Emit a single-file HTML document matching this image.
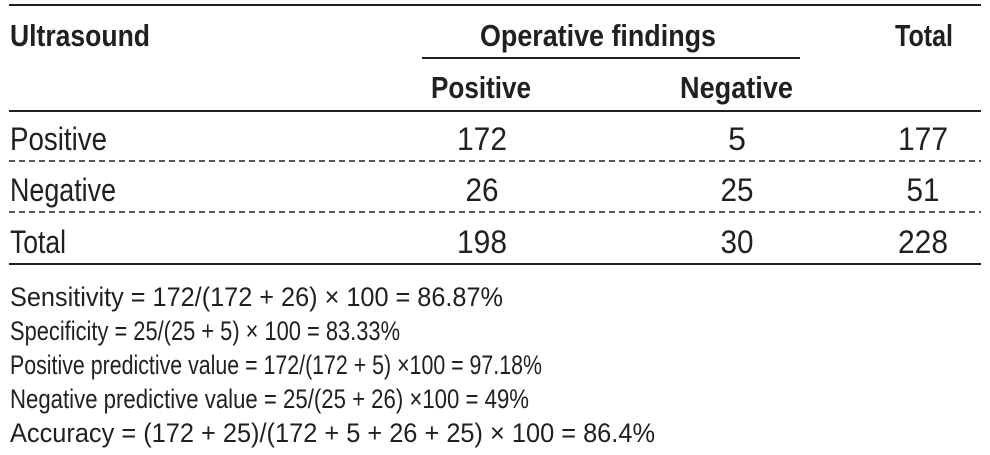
<!DOCTYPE html>
<html><head><meta charset="utf-8"><style>
html,body{margin:0;padding:0;background:#fff;}
svg{display:block}
text{font-family:"Liberation Sans Narrow","Liberation Sans",sans-serif;fill:#231f20;}
.b{font-weight:bold;font-size:31px}
.r{font-size:32px}
.f{font-size:27px}
</style></head><body>
<svg width="990" height="455" viewBox="0 0 990 455" xmlns="http://www.w3.org/2000/svg">
<g stroke="#231f20" stroke-width="2">
<line x1="9" y1="5" x2="981" y2="5"/>
<line x1="422" y1="58" x2="800" y2="58"/>
<line x1="9" y1="111" x2="981" y2="111"/>
<line x1="9" y1="264" x2="981" y2="264"/>
</g>
<g stroke="#231f20" stroke-width="1.5" stroke-dasharray="6,4">
<line x1="9" y1="161" x2="981" y2="161"/>
<line x1="9" y1="212" x2="981" y2="212"/>
</g>
<text class="b" x="10" y="46" textLength="140" lengthAdjust="spacingAndGlyphs">Ultrasound</text>
<text class="b" x="480" y="46" textLength="236" lengthAdjust="spacingAndGlyphs">Operative findings</text>
<text class="b" x="895" y="46" textLength="58" lengthAdjust="spacingAndGlyphs">Total</text>
<text class="b" x="431" y="98" textLength="100" lengthAdjust="spacingAndGlyphs">Positive</text>
<text class="b" x="680" y="98" textLength="113" lengthAdjust="spacingAndGlyphs">Negative</text>
<text class="r" x="10" y="150" textLength="97" lengthAdjust="spacingAndGlyphs">Positive</text>
<text class="r" x="10" y="201" textLength="106" lengthAdjust="spacingAndGlyphs">Negative</text>
<text class="r" x="10" y="253" textLength="56" lengthAdjust="spacingAndGlyphs">Total</text>
<g text-anchor="middle">
<text class="r" x="482" y="150" textLength="50" lengthAdjust="spacingAndGlyphs">172</text><text class="r" x="737" y="150">5</text><text class="r" x="923" y="150" textLength="50" lengthAdjust="spacingAndGlyphs">177</text>
<text class="r" x="482" y="201" textLength="33" lengthAdjust="spacingAndGlyphs">26</text><text class="r" x="737" y="201" textLength="33" lengthAdjust="spacingAndGlyphs">25</text><text class="r" x="923" y="201" textLength="33" lengthAdjust="spacingAndGlyphs">51</text>
<text class="r" x="482" y="253" textLength="50" lengthAdjust="spacingAndGlyphs">198</text><text class="r" x="737" y="253" textLength="33" lengthAdjust="spacingAndGlyphs">30</text><text class="r" x="923" y="253" textLength="50" lengthAdjust="spacingAndGlyphs">228</text>
</g>
<text class="f" x="10" y="306" textLength="493" lengthAdjust="spacingAndGlyphs">Sensitivity = 172/(172 + 26) × 100 = 86.87%</text>
<text class="f" x="10" y="340" textLength="390" lengthAdjust="spacingAndGlyphs">Specificity = 25/(25 + 5) × 100 = 83.33%</text>
<text class="f" x="10" y="374" textLength="532" lengthAdjust="spacingAndGlyphs">Positive predictive value = 172/(172 + 5) ×100 = 97.18%</text>
<text class="f" x="10" y="408" textLength="519" lengthAdjust="spacingAndGlyphs">Negative predictive value = 25/(25 + 26) ×100 = 49%</text>
<text class="f" x="10" y="442" textLength="645" lengthAdjust="spacingAndGlyphs">Accuracy = (172 + 25)/(172 + 5 + 26 + 25) × 100 = 86.4%</text>
</svg>
</body></html>
